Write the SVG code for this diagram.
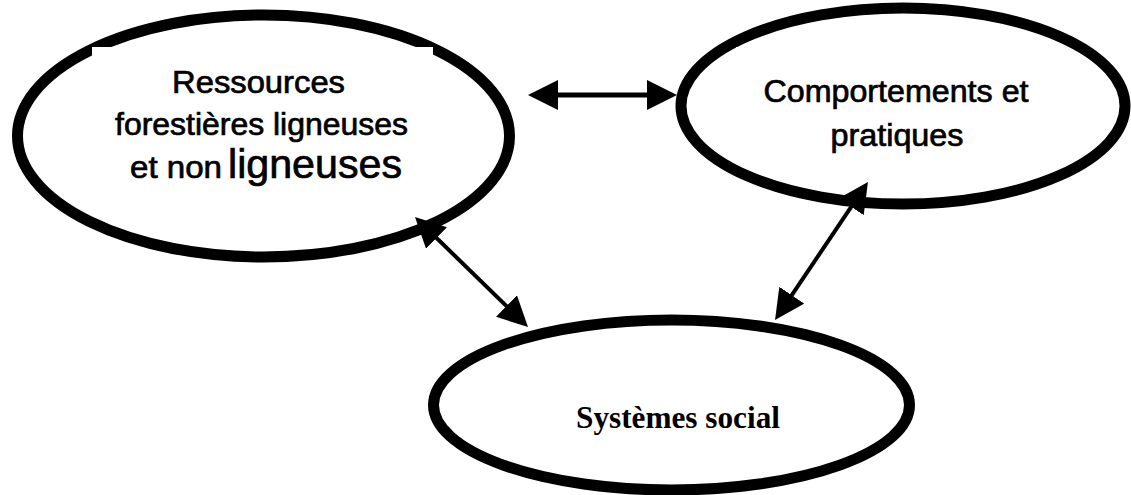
<svg xmlns="http://www.w3.org/2000/svg" width="1131" height="495" viewBox="0 0 1131 495">
  <style>
    .node { fill: #ffffff; stroke: #000000; stroke-width: 11; }
    .mask { fill: #ffffff; stroke: none; }
    .sans { font-family: "Liberation Sans", Arial, sans-serif; fill: #000000; stroke: #000000; stroke-width: 0.7; text-anchor: middle; }
    .serif { font-family: "Liberation Serif", "Times New Roman", serif; font-weight: bold; fill: #000000; text-anchor: middle; }
    .conn { stroke: #000000; fill: none; }
  </style>
  <defs>
    <marker id="head" markerUnits="userSpaceOnUse" markerWidth="30" markerHeight="30" viewBox="0 0 30 30" refX="15" refY="15" orient="auto-start-reverse">
      <path d="M0,0 L30,15 L0,30 Z" fill="#000000"/>
    </marker>
  </defs>
  <rect width="1131" height="495" fill="#ffffff"/>

  <g id="node-ressources">
    <ellipse class="node" cx="263.5" cy="136" rx="246" ry="121"/>
    <rect class="mask" x="92" y="47" width="341" height="150"/>
    <text class="sans" font-size="31" x="258.5" y="93" textLength="173" lengthAdjust="spacingAndGlyphs">Ressources</text>
    <text class="sans" font-size="31" x="261.5" y="135" textLength="293" lengthAdjust="spacingAndGlyphs">forestières ligneuses</text>
    <text class="sans" font-size="31" x="176" y="178" textLength="92" lengthAdjust="spacingAndGlyphs">et non</text>
    <text class="sans" font-size="41" x="315" y="178" textLength="174" lengthAdjust="spacingAndGlyphs">ligneuses</text>
  </g>

  <g id="node-comportements">
    <ellipse class="node" cx="903" cy="106" rx="222" ry="98"/>
    <rect class="mask" x="736" y="47" width="300" height="95"/>
    <text class="sans" font-size="31" x="896" y="102" textLength="265" lengthAdjust="spacingAndGlyphs">Comportements et</text>
    <text class="sans" font-size="31" x="897" y="146" textLength="133" lengthAdjust="spacingAndGlyphs">pratiques</text>
  </g>

  <g id="node-systemes">
    <ellipse class="node" cx="671.5" cy="405" rx="238" ry="85"/>
    <text class="serif" font-size="31" x="678" y="428" textLength="204" lengthAdjust="spacingAndGlyphs">Systèmes social</text>
  </g>

  <g id="connectors">
    <line class="conn" stroke-width="5" x1="543" y1="95" x2="662" y2="95" marker-start="url(#head)" marker-end="url(#head)"/>
    <line class="conn" stroke-width="4" x1="425.75" y1="227.46" x2="517.25" y2="316.54" marker-start="url(#head)" marker-end="url(#head)"/>
    <line class="conn" stroke-width="4" x1="859.6" y1="194.4" x2="783.4" y2="307.6" marker-start="url(#head)" marker-end="url(#head)"/>
  </g>
</svg>
